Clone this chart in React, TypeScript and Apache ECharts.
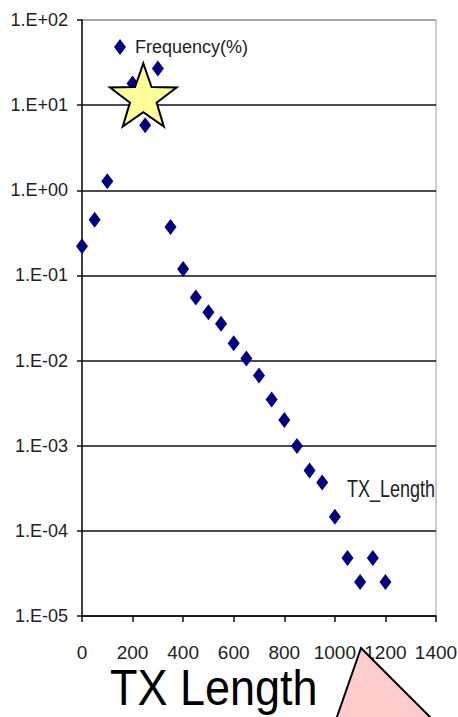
import React, { useEffect, useRef } from "react";
import * as echarts from "echarts";

// ---- data ----
const txLength = [0, 50, 100, 200, 250, 300, 350, 400, 450, 500, 550, 600, 650, 700, 750, 800, 850, 900, 950, 1000, 1050, 1100, 1150, 1200];
const frequency = [0.22, 0.45, 1.28, 18, 5.8, 27, 0.37, 0.119, 0.055, 0.037, 0.027, 0.016, 0.0106, 0.0067, 0.0035, 0.002, 0.00099, 0.00051, 0.00037, 0.000146, 0.000048, 0.000025, 0.000048, 0.000025];
const yTickLabels = ["1.E-05", "1.E-04", "1.E-03", "1.E-02", "1.E-01", "1.E+00", "1.E+01", "1.E+02"];
const xTickValues = [0, 200, 400, 600, 800, 1000, 1200, 1400];
const seriesName = "Frequency(%)";
const innerAxisTitle = "TX_Length";
const bigTitle = "TX Length";

const SANS = "'Liberation Sans', Arial, Helvetica, sans-serif";

function starPoints(cx: number, cy: number, R: number, r: number): number[][] {
  const pts: number[][] = [];
  for (let i = 0; i < 10; i++) {
    const a = -Math.PI / 2 + (i * Math.PI) / 5;
    const rad = i % 2 === 0 ? R : r;
    pts.push([cx + rad * Math.cos(a), cy + rad * Math.sin(a)]);
  }
  return pts;
}

export default function App() {
  const ref = useRef<HTMLDivElement>(null);
  useEffect(() => {
    if (!ref.current) return;
    const chart = echarts.init(ref.current, undefined, { renderer: "svg" });
    const splitColors = yTickLabels.map((_, i) => (i === yTickLabels.length - 1 ? "#9a9a9a" : "#111"));
    chart.setOption({
      animation: false,
      backgroundColor: "#fff",
      grid: {
        left: 82,
        top: 20,
        right: 22,
        bottom: 101,
        containLabel: false,
        outerBoundsMode: "none",
        show: true,
        borderColor: "#9a9a9a",
        borderWidth: 1,
        backgroundColor: "transparent",
      },
      legend: {
        left: 109,
        top: 33,
        icon: "diamond",
        itemWidth: 12,
        itemHeight: 16,
        data: [seriesName],
        textStyle: { fontFamily: SANS, fontSize: 18, color: "#222", padding: [0, 0, 0, 4] },
      },
      xAxis: {
        type: "value",
        min: 0,
        max: 1400,
        interval: 200,
        axisLine: { show: true, lineStyle: { color: "#111", width: 1.5 } },
        axisTick: { show: true, length: 6, lineStyle: { color: "#111", width: 1.5 } },
        splitLine: { show: false },
        axisLabel: {
          margin: 27,
          showMaxLabel: true,
          showMinLabel: true,
          hideOverlap: false,
          fontFamily: SANS,
          fontSize: 19,
          color: "#222",
          formatter: (v: number) => String(xTickValues.find((t) => t === v) ?? v),
        },
      },
      yAxis: {
        type: "log",
        logBase: 10,
        min: 1e-5,
        max: 100,
        axisLine: { show: true, lineStyle: { color: "#111", width: 1.5 } },
        axisTick: { show: true, length: 5, lineStyle: { color: "#111", width: 1.5 } },
        splitLine: { show: true, lineStyle: { color: splitColors, width: 1.6 } },
        axisLabel: {
          margin: 14,
          fontFamily: SANS,
          fontSize: 18,
          color: "#222",
          formatter: (v: number) => {
            const e = Math.round(Math.log10(v));
            return yTickLabels[e + 5] ?? "";
          },
        },
      },
      series: [
        {
          name: seriesName,
          type: "scatter",
          symbol: "diamond",
          symbolSize: [12, 16],
          itemStyle: { color: "#000080", opacity: 1 },
          data: txLength.map((x, i) => [x, frequency[i]]),
          z: 3,
        },
      ],
      graphic: [
        {
          type: "text",
          x: 347,
          y: 489,
          scaleY: 1.3,
          style: { text: innerAxisTitle, fontFamily: SANS, fontSize: 18, fill: "#222", verticalAlign: "middle", align: "left" },
        },
        {
          type: "text",
          x: 110,
          y: 688,
          scaleY: 1.1,
          style: { text: bigTitle, fontFamily: SANS, fontSize: 45, fill: "#000", verticalAlign: "middle", align: "left" },
        },
        {
          type: "polygon",
          z: 100,
          shape: { points: starPoints(143.3, 98.3, 35, 14) },
          style: { fill: "#ffff99", stroke: "#000", lineWidth: 2 },
        },
        {
          type: "polygon",
          z: 100,
          shape: { points: [[361, 648], [447, 734], [331, 734]] },
          style: { fill: "#ffcccc", stroke: "#000", lineWidth: 2 },
        },
      ],
    });
    return () => chart.dispose();
  }, []);
  return <div ref={ref} style={{ position: "fixed", left: 0, top: 0, width: 458, height: 717 }} />;
}
